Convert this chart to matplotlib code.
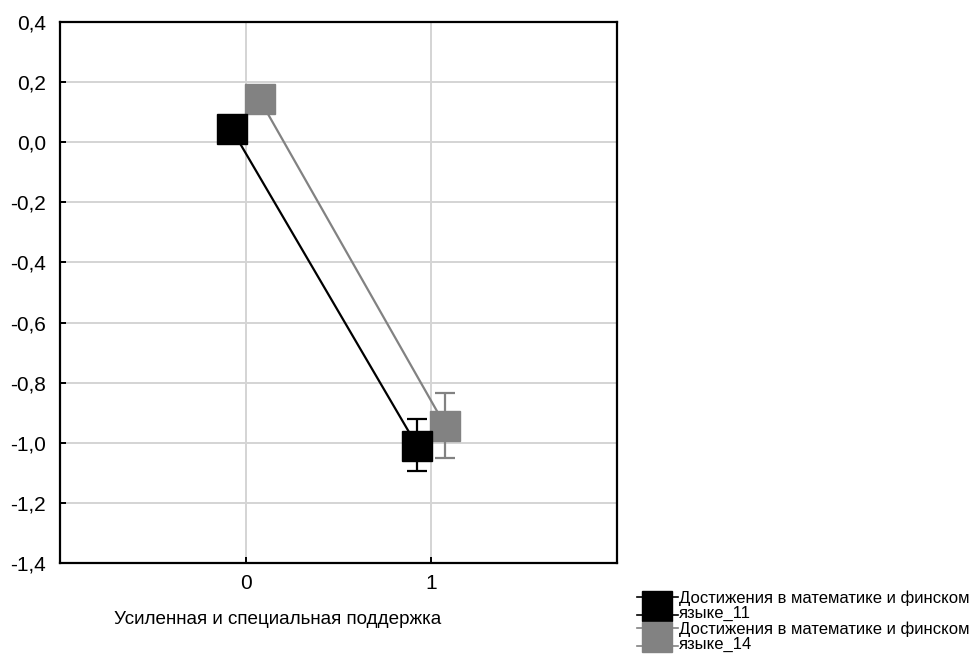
import numpy as np
import matplotlib
matplotlib.use('Agg')
import matplotlib.pyplot as plt
import matplotlib.ticker as ticker
from matplotlib.lines import Line2D

plt.rcParams['font.family'] = ['Liberation Sans', 'DejaVu Sans']

# data
groups = [0, 1]
mean_11 = [0.043, -1.012]
err_lo_11 = [0.02, 0.082]
err_hi_11 = [0.02, 0.092]
mean_14 = [0.143, -0.943]
err_lo_14 = [0.02, 0.108]
err_hi_14 = [0.02, 0.107]
series_labels = ['Достижения в математике и финском\nязыке_11',
                 'Достижения в математике и финском\nязыке_14']
xlabel = 'Усиленная и специальная поддержка'

col_11 = '#000000'
col_14 = '#828282'
offset = 0.075

fig = plt.figure(figsize=(9.75, 6.58), dpi=100)
ax = fig.add_axes([0.0615, 0.1444, 0.5713, 0.8222])

x = np.array(groups, dtype=float)
ax.errorbar(x - offset, mean_11, yerr=[err_lo_11, err_hi_11], color=col_11,
            lw=1.6, marker='s', ms=21.5, mec=col_11, mfc=col_11,
            capsize=7.5, capthick=1.6, elinewidth=1.6, zorder=4)
ax.errorbar(x + offset, mean_14, yerr=[err_lo_14, err_hi_14], color=col_14,
            lw=1.6, marker='s', ms=21.5, mec=col_14, mfc=col_14,
            capsize=7.5, capthick=1.6, elinewidth=1.6, zorder=3)

ax.set_xlim(-1, 2)
ax.set_ylim(-1.4, 0.4)
ax.set_xticks(groups)
ax.set_yticks(np.arange(-1.4, 0.41, 0.2))
ax.yaxis.set_major_formatter(ticker.FuncFormatter(
    lambda v, p: ('%.1f' % v).replace('.', ',').replace('-0,0', '0,0')))

ax.set_axisbelow(True)
ax.grid(color='#d4d4d4', linewidth=1.4)
for s in ax.spines.values():
    s.set_linewidth(1.6)
ax.tick_params(axis='both', direction='in', length=4, width=1.4,
               labelsize=15)
ax.tick_params(axis='y', pad=10)
ax.tick_params(axis='x', pad=8)

fig.text(278 / 975, 1 - 619 / 658, xlabel, fontsize=13.6,
         ha='center', va='center')

# legend drawn by hand
leg_y = [606, 637]
leg_col = [col_11, col_14]
for yy, c, lab in zip(leg_y, leg_col, series_labels):
    fy = 1 - yy / 658
    fig.add_artist(Line2D([657 / 975], [fy], marker='s', ms=22, color=c,
                          mec=c, transform=fig.transFigure))
    for dy in (-9, 9):
        fig.add_artist(Line2D([637 / 975, 678 / 975],
                              [1 - (yy + dy) / 658] * 2, color=c, lw=1.2,
                              transform=fig.transFigure))
    fig.text(679 / 975, fy, lab, fontsize=12, ha='left', va='center',
             linespacing=0.95)

fig.savefig('out.png', dpi=100)
